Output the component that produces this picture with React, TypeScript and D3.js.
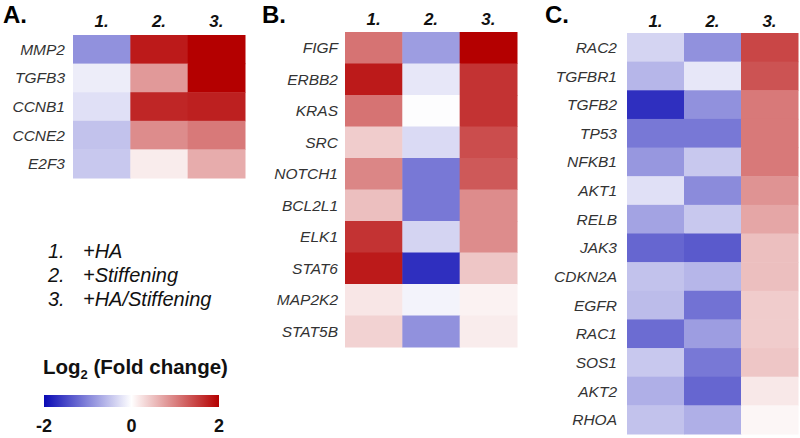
import React from "react";
import * as d3 from "d3";

const conditions = ["1.", "2.", "3."];
const legendItems = ["+HA", "+Stiffening", "+HA/Stiffening"];

const genesA = ["MMP2", "TGFB3", "CCNB1", "CCNE2", "E2F3"];
const valuesA = [
  [-0.9, 1.8, 2.0],
  [-0.15, 0.8, 2.0],
  [-0.25, 1.7, 1.75],
  [-0.5, 0.9, 1.05],
  [-0.45, 0.15, 0.65],
];

const genesB = ["FIGF", "ERBB2", "KRAS", "SRC", "NOTCH1", "BCL2L1", "ELK1", "STAT6", "MAP2K2", "STAT5B"];
const valuesB = [
  [1.1, -0.8, 2.0],
  [1.8, -0.2, 1.6],
  [1.1, -0.02, 1.6],
  [0.4, -0.3, 1.4],
  [0.95, -1.1, 1.3],
  [0.5, -1.1, 0.9],
  [1.6, -0.35, 0.9],
  [1.8, -1.7, 0.45],
  [0.2, -0.1, 0.1],
  [0.35, -0.9, 0.15],
];

const genesC = ["RAC2", "TGFBR1", "TGFB2", "TP53", "NFKB1", "AKT1", "RELB", "JAK3", "CDKN2A", "EGFR", "RAC1", "SOS1", "AKT2", "RHOA"];
const valuesC = [
  [-0.35, -0.9, 1.45],
  [-0.6, -0.2, 1.35],
  [-1.7, -0.9, 1.05],
  [-1.1, -1.1, 1.05],
  [-0.85, -0.45, 1.05],
  [-0.25, -0.95, 0.85],
  [-0.75, -0.45, 0.7],
  [-1.25, -1.35, 0.5],
  [-0.5, -0.6, 0.5],
  [-0.55, -1.15, 0.4],
  [-1.2, -0.8, 0.4],
  [-0.45, -1.1, 0.45],
  [-0.65, -1.25, 0.18],
  [-0.5, -0.65, 0.07],
];

const colorTicks = [-2, 0, 2];

const color = d3
  .scaleLinear<string>()
  .domain([-2, 0, 2])
  .range(["#0a0ab4", "#ffffff", "#b40000"])
  .interpolate(d3.interpolateRgb)
  .clamp(true);

const FONT = "Liberation Sans, Arial, Helvetica, sans-serif";

type PanelProps = {
  letter: string;
  letterX: number;
  genes: string[];
  values: number[][];
  x0: number;
  x1: number;
  y0: number;
  y1: number;
  headerY: number;
  labelX: number;
};

function Panel({ letter, letterX, genes, values, x0, x1, y0, y1, headerY, labelX }: PanelProps) {
  const x = d3.scaleBand<string>().domain(conditions).range([x0, x1]);
  const y = d3.scaleBand<string>().domain(genes).range([y0, y1]);
  return (
    <g>
      <text x={letterX} y={23} fontFamily={FONT} fontWeight="bold" fontSize={24} fill="#000">
        {letter}
      </text>
      {conditions.map((c) => (
        <text
          key={c}
          x={(x(c) as number) + x.bandwidth() / 2}
          y={headerY}
          textAnchor="middle"
          fontFamily={FONT}
          fontWeight="bold"
          fontStyle="italic"
          fontSize={17}
          fill="#111"
        >
          {c}
        </text>
      ))}
      {genes.map((g, i) => (
        <g key={g}>
          <text
            x={labelX}
            y={(y(g) as number) + y.bandwidth() / 2}
            dy="0.36em"
            textAnchor="end"
            fontFamily={FONT}
            fontStyle="italic"
            fontSize={15.5}
            fill="#333"
          >
            {g}
          </text>
          {conditions.map((c, j) => (
            <rect
              key={c}
              x={x(c) as number}
              y={y(g) as number}
              width={x.bandwidth() + 0.5}
              height={y.bandwidth() + 0.5}
              fill={color(values[i][j])}
            />
          ))}
        </g>
      ))}
    </g>
  );
}

export default function App() {
  const barX0 = 44;
  const barX1 = 219;
  const cbScale = d3.scaleLinear().domain([-2, 2]).range([barX0, barX1]);
  const stops = d3.range(0, 1.0001, 0.05);
  return (
    <svg width={800} height={438} style={{ display: "block", position: "absolute", left: 0, top: 0 }}>
      <rect width={800} height={438} fill="#fff" />
      <defs>
        <linearGradient id="cb" x1="0" x2="1" y1="0" y2="0">
          {stops.map((s) => (
            <stop key={s} offset={s} stopColor={color(-2 + 4 * s)} />
          ))}
        </linearGradient>
      </defs>
      <Panel letter="A." letterX={3} genes={genesA} values={valuesA} x0={73} x1={245} y0={35} y1={178} headerY={27} labelX={65} />
      <Panel letter="B." letterX={262} genes={genesB} values={valuesB} x0={345} x1={517} y0={32} y1={347} headerY={25} labelX={338} />
      <Panel letter="C." letterX={545} genes={genesC} values={valuesC} x0={627} x1={798} y0={33} y1={434} headerY={27} labelX={617} />

      {legendItems.map((t, i) => (
        <g key={t} fontFamily={FONT} fontStyle="italic" fontSize={20} fill="#111">
          <text x={48} y={258 + i * 24}>
            {conditions[i]}
          </text>
          <text x={83} y={258 + i * 24}>
            {t}
          </text>
        </g>
      ))}

      <text x={43} y={374} fontFamily={FONT} fontWeight="bold" fontSize={20.5} fill="#111">
        Log
        <tspan fontSize={13} dy={5}>2</tspan>
        <tspan dy={-5}> (Fold change)</tspan>
      </text>
      <rect x={barX0} y={395} width={barX1 - barX0} height={12} fill="url(#cb)" />
      {colorTicks.map((t) => (
        <text
          key={t}
          x={cbScale(t)}
          y={432}
          textAnchor="middle"
          fontFamily={FONT}
          fontWeight="bold"
          fontSize={18}
          fill="#111"
        >
          {t}
        </text>
      ))}
    </svg>
  );
}
